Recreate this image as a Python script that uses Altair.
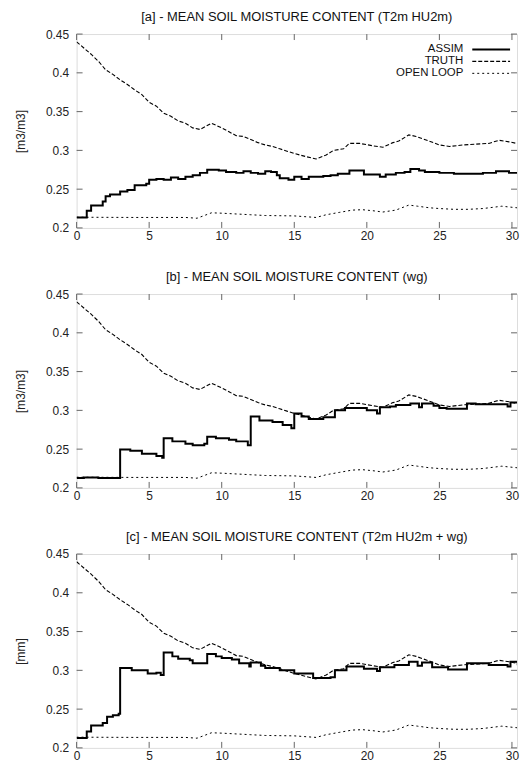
import altair as alt
import pandas as pd

# ---------------- data ----------------
x_ticks = [0, 5, 10, 15, 20, 25, 30]
y_ticks = [0.2, 0.25, 0.3, 0.35, 0.4, 0.45]

truth_t = [0, 0.5, 1, 1.5, 2, 2.5, 3, 3.5, 4, 4.5, 5, 5.5, 6, 6.5, 7, 7.5, 8, 8.5, 9, 9.3,
           10, 10.5, 11, 11.5, 12, 12.5, 13, 13.5, 14, 14.5, 15, 15.8, 16.5, 17.2, 17.7,
           18.4, 18.8, 19.5, 20.4, 21.1, 21.8, 22.2, 22.9, 23.4, 24.3, 25, 25.7, 26.6,
           27.5, 28.4, 29.1, 29.8, 30.85]
truth_v = [0.440, 0.432, 0.424, 0.415, 0.404, 0.398, 0.391, 0.385, 0.378, 0.372, 0.362,
           0.357, 0.348, 0.344, 0.338, 0.335, 0.329, 0.327, 0.332, 0.335, 0.329, 0.324,
           0.319, 0.318, 0.314, 0.310, 0.307, 0.305, 0.302, 0.299, 0.296, 0.292, 0.289,
           0.294, 0.300, 0.302, 0.309, 0.309, 0.306, 0.304, 0.310, 0.312, 0.320, 0.318,
           0.312, 0.307, 0.305, 0.307, 0.308, 0.309, 0.313, 0.311, 0.307]

open_t = [0, 4, 7.5, 8.3, 8.8, 9.3, 10, 11, 12, 13, 15, 16.5, 17.2, 18.1, 19, 19.7, 20.5,
          21.1, 22, 22.9, 23.5, 24.3, 25, 26, 27, 28, 29.3, 30.85]
open_v = [0.2138, 0.2135, 0.2135, 0.2125, 0.216, 0.2195, 0.219, 0.218, 0.217, 0.216,
          0.2155, 0.2135, 0.217, 0.220, 0.223, 0.2235, 0.222, 0.2205, 0.223, 0.2295,
          0.228, 0.226, 0.225, 0.224, 0.224, 0.225, 0.228, 0.225]

assim_a_t = [0, 0.7, 1.0, 1.8, 2.0, 2.3, 3.0, 3.5, 4.0, 4.8, 5.0, 5.5, 6.0, 6.5, 7.0, 7.5,
             8.0, 8.5, 9.0, 9.8, 10.3, 11.0, 11.5, 12.0, 12.5, 13.0, 13.4, 13.8, 14.0,
             14.6, 15.0, 15.5, 16.0, 17.0, 17.5, 18.0, 18.8, 19.8, 20.9, 21.3, 22.0, 22.6,
             23.0, 23.6, 24.0, 25.0, 26.0, 27.0, 28.0, 28.9, 29.8, 30.5, 30.85]
assim_a_v = [0.2135, 0.222, 0.229, 0.234, 0.241, 0.243, 0.247, 0.249, 0.255, 0.257, 0.262,
             0.263, 0.262, 0.265, 0.263, 0.266, 0.268, 0.271, 0.275, 0.274, 0.272, 0.271,
             0.273, 0.271, 0.270, 0.273, 0.272, 0.268, 0.264, 0.262, 0.266, 0.263, 0.266,
             0.267, 0.268, 0.270, 0.274, 0.269, 0.266, 0.269, 0.271, 0.272, 0.276, 0.274,
             0.272, 0.271, 0.270, 0.270, 0.271, 0.273, 0.271, 0.270, 0.270]

assim_b_t = [0, 0.5, 1.5, 3.0, 3.7, 4.5, 5.5, 5.9, 6.0, 6.6, 7.5, 8.0, 8.8, 9.0, 9.6, 10.5,
             11.0, 11.8, 12.0, 12.6, 13.5, 14.2, 14.8, 15.0, 15.5, 16.0, 17.0, 17.8, 18.5,
             20.0, 20.7, 20.9, 21.6, 22.0, 23.0, 23.6, 23.8, 24.6, 25.0, 25.5, 26.9, 27.5,
             29.7, 29.9, 30.5, 30.85]
assim_b_v = [0.2128, 0.2135, 0.2128, 0.2495, 0.248, 0.244, 0.241, 0.239, 0.264, 0.260,
             0.257, 0.255, 0.257, 0.266, 0.264, 0.262, 0.260, 0.255, 0.292, 0.287, 0.285,
             0.281, 0.277, 0.296, 0.292, 0.289, 0.291, 0.300, 0.303, 0.300, 0.296, 0.304,
             0.305, 0.307, 0.309, 0.304, 0.309, 0.306, 0.303, 0.302, 0.309, 0.308, 0.305,
             0.310, 0.308, 0.308]

assim_c_t = [0, 0.7, 1.0, 1.8, 2.1, 2.5, 2.9, 3.0, 3.8, 4.9, 5.5, 5.8, 6.0, 6.6, 7.0, 7.8,
             8.0, 9.0, 9.6, 10.0, 10.7, 11.2, 11.9, 12.0, 12.7, 13.0, 14.0, 15.0, 16.3,
             17.5, 17.8, 18.6, 19.8, 20.7, 20.9, 21.9, 22.9, 23.5, 23.8, 24.5, 25.6, 26.9,
             28.4, 29.7, 29.9, 30.4, 30.85]
assim_c_v = [0.2128, 0.221, 0.229, 0.232, 0.240, 0.242, 0.244, 0.303, 0.300, 0.296, 0.297,
             0.294, 0.323, 0.318, 0.315, 0.313, 0.309, 0.321, 0.318, 0.316, 0.314, 0.309,
             0.305, 0.310, 0.306, 0.303, 0.300, 0.296, 0.290, 0.291, 0.300, 0.305, 0.302,
             0.299, 0.304, 0.307, 0.311, 0.306, 0.310, 0.304, 0.301, 0.309, 0.307, 0.305,
             0.311, 0.308, 0.307]

titles = ["[a] - MEAN SOIL MOISTURE CONTENT (T2m HU2m)",
          "[b] - MEAN SOIL MOISTURE CONTENT (wg)",
          "[c] - MEAN SOIL MOISTURE CONTENT (T2m HU2m + wg)"]
y_titles = ["[m3/m3]", "[m3/m3]", "[mm]"]
legend_labels = ["ASSIM", "TRUTH", "OPEN LOOP"]

# ---------------- styling ----------------
W, H = 443, 195
FONT = "Liberation Sans"
GRAY = "#666666"
TICK = 6

xs = alt.Scale(domain=[0, 30.35], nice=False, zero=False)
ys = alt.Scale(domain=[0.2, 0.45], nice=False, zero=False)

truth_df = pd.DataFrame({"t": truth_t, "v": truth_v})
open_df = pd.DataFrame({"t": open_t, "v": open_v})
xt_df = pd.DataFrame({"t": x_ticks})
yt_df = pd.DataFrame({"v": y_ticks})

x_axis = alt.Axis(values=x_ticks, ticks=False, domain=False, grid=False,
                  labelPadding=3, labelFontSize=12, labelFont=FONT,
                  labelColor="#222", title=None, labelFlush=False, labelOverlap=False)


def y_axis(ytitle):
    return alt.Axis(values=y_ticks, ticks=False, domain=False, grid=False,
                    format=".2~f", labelPadding=8, labelFontSize=12,
                    labelFont=FONT, labelColor="#222", title=ytitle,
                    titleFont=FONT, titleFontSize=12, titleFontWeight="normal",
                    titleColor="#222", titlePadding=18, labelFlush=False,
                    labelOverlap=False, tickCount=6)


def panel(assim_t, assim_v, title, ytitle, legend):
    xenc = alt.X("t:Q", scale=xs, axis=x_axis)
    yenc = alt.Y("v:Q", scale=ys, axis=y_axis(ytitle))
    assim_df = pd.DataFrame({"t": assim_t, "v": assim_v})
    truth = alt.Chart(truth_df).mark_line(color="black", strokeWidth=1.1,
                                          strokeDash=[4, 2], clip=True).encode(x=xenc, y=yenc)
    openl = alt.Chart(open_df).mark_line(color="black", strokeWidth=1.0,
                                         strokeDash=[2, 3], clip=True).encode(x=xenc, y=yenc)
    assim = alt.Chart(assim_df).mark_line(color="black", strokeWidth=2.0,
                                          interpolate="step-after", clip=True).encode(x=xenc, y=yenc)
    # inward tick marks (gnuplot style), on all four sides
    xb = alt.Chart(xt_df).mark_rule(color=GRAY, strokeWidth=1).encode(
        x=xenc, y=alt.value(H), y2=alt.value(H - TICK))
    xtp = alt.Chart(xt_df).mark_rule(color=GRAY, strokeWidth=1).encode(
        x=xenc, y=alt.value(0), y2=alt.value(TICK))
    yl = alt.Chart(yt_df).mark_rule(color=GRAY, strokeWidth=1).encode(
        y=yenc, x=alt.value(0), x2=alt.value(TICK))
    yr = alt.Chart(yt_df).mark_rule(color=GRAY, strokeWidth=1).encode(
        y=yenc, x=alt.value(W), x2=alt.value(W - TICK))
    layers = [truth, openl, assim, xb, xtp, yl, yr]
    if legend:
        ly = [15.5, 27.5, 39.5]
        dashes = [[1, 0], [4, 2], [2, 3]]
        widths = [2.0, 1.1, 1.0]
        for lab, yy, dsh, sw in zip(legend_labels, ly, dashes, widths):
            ldf = pd.DataFrame({"label": [lab]})
            layers.append(alt.Chart(ldf).mark_text(align="right", baseline="middle",
                                                   font=FONT, fontSize=11.5, color="#111").encode(
                text="label:N", x=alt.value(389), y=alt.value(yy)))
            layers.append(alt.Chart(ldf).mark_rule(color="black", strokeWidth=sw,
                                                   strokeDash=dsh).encode(
                x=alt.value(398), x2=alt.value(436), y=alt.value(yy)))
    return alt.layer(*layers).properties(
        width=W, height=H,
        title=alt.TitleParams(title, font=FONT, fontSize=13, fontWeight="normal",
                              color="#111", offset=4, anchor="middle"))


chart = alt.vconcat(
    panel(assim_a_t, assim_a_v, titles[0], y_titles[0], True),
    panel(assim_b_t, assim_b_v, titles[1], y_titles[1], False),
    panel(assim_c_t, assim_c_v, titles[2], y_titles[2], False),
    spacing=27.5,
).properties(padding={"left": 6, "top": 0, "right": 0, "bottom": 0}
).configure_view(stroke=GRAY, strokeWidth=1
).configure(background="white")

chart.save("out.html", embed_options={"renderer": "svg", "actions": False})
